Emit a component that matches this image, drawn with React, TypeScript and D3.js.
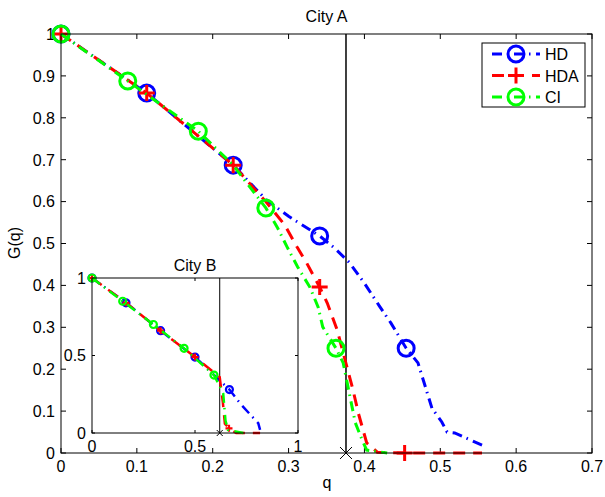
import React from "react";
import * as d3 from "d3";

// main panel: City A
const hdA = [
  [0, 1], [0.113, 0.859], [0.227, 0.687], [0.27, 0.605], [0.3, 0.565], [0.341, 0.518],
  [0.36, 0.49], [0.38, 0.455], [0.4, 0.405], [0.42, 0.35], [0.435, 0.31], [0.455, 0.25],
  [0.4706, 0.215], [0.489, 0.107], [0.502, 0.074], [0.509, 0.05], [0.519, 0.048],
  [0.546, 0.026], [0.555, 0.019],
];
const hdAMarks = [[0, 1], [0.113, 0.859], [0.227, 0.687], [0.341, 0.518], [0.455, 0.25]];

const hdaA = [
  [0, 1], [0.113, 0.859], [0.227, 0.687], [0.27, 0.6], [0.295, 0.544], [0.311, 0.492],
  [0.324, 0.453], [0.341, 0.396], [0.351, 0.358], [0.364, 0.294], [0.385, 0.15],
  [0.392, 0.095], [0.403, 0.024], [0.417, 0.002], [0.453, 0], [0.555, 0],
];
const hdaAMarks = [[0, 1], [0.113, 0.859], [0.227, 0.687], [0.341, 0.396], [0.453, 0]];

const ciA = [
  [0, 1], [0.088, 0.888], [0.181, 0.768], [0.227, 0.687], [0.27, 0.585], [0.285, 0.539],
  [0.298, 0.492], [0.312, 0.444], [0.328, 0.396], [0.339, 0.348], [0.345, 0.301],
  [0.3625, 0.25], [0.372, 0.215], [0.381, 0.134], [0.388, 0.072], [0.397, 0.031],
  [0.403, 0.007], [0.43, 0],
];
const ciAMarks = [[0, 1], [0.088, 0.888], [0.181, 0.768], [0.27, 0.585], [0.3625, 0.25]];

const qcA = 0.3757;

// inset: City B
const hdB = [
  [0, 1], [0.165, 0.84], [0.333, 0.66], [0.5, 0.49], [0.667, 0.28], [0.726, 0.18],
  [0.807, 0.063], [0.816, 0.02],
];
const hdBMarks = [[0, 1], [0.165, 0.84], [0.333, 0.66], [0.5, 0.49], [0.667, 0.28]];

const hdaB = [
  [0, 1], [0.165, 0.84], [0.333, 0.66], [0.5, 0.49], [0.62, 0.36], [0.635, 0.2],
  [0.645, 0.06], [0.665, 0.03], [0.7, 0], [0.816, 0],
];
const hdaBMarks = [[0, 1], [0.165, 0.84], [0.333, 0.66], [0.5, 0.49], [0.665, 0.03]];

const ciB = [
  [0, 1], [0.149, 0.85], [0.298, 0.7], [0.447, 0.546], [0.592, 0.374], [0.637, 0.255],
  [0.648, 0.08], [0.66, 0.02], [0.735, 0],
];
const ciBMarks = [[0, 1], [0.149, 0.85], [0.298, 0.7], [0.447, 0.546], [0.592, 0.374]];

const qcB = 0.62;

const xTicksA = [0, 0.1, 0.2, 0.3, 0.4, 0.5, 0.6, 0.7];
const yTicksA = [0, 0.1, 0.2, 0.3, 0.4, 0.5, 0.6, 0.7, 0.8, 0.9, 1];
const ticksB = [0, 0.5, 1];

const legendNames = ["HD", "HDA", "CI"];
const colors = ["#0000ff", "#ff0000", "#00ff00"];
const dashes = ["10,5,1.5,5.5", "12,8", "10,5,1.5,5.5"];
const shapes = ["circle", "plus", "circle"];

const FONT = "'Liberation Sans', Arial, sans-serif";
const FS = 16;

function App() {
  const ref = React.useRef(null);

  React.useEffect(() => {
    const svg = d3.select(ref.current);
    svg.selectAll("*").remove();

    const drawPanel = (g, opts) => {
      const { x, y, xTicks, yTicks, series, marks, qc, r, sw, msw, tickLen, title, titleY, fmt } = opts;
      const [x0, x1] = x.range();
      const [y0, y1] = y.range();
      g.append("rect")
        .attr("x", x0).attr("y", y1).attr("width", x1 - x0).attr("height", y0 - y1)
        .attr("fill", "white");

      // ticks (inward, all four sides)
      xTicks.forEach((t) => {
        g.append("line").attr("x1", x(t)).attr("x2", x(t)).attr("y1", y0).attr("y2", y0 - tickLen).attr("stroke", "black");
        g.append("line").attr("x1", x(t)).attr("x2", x(t)).attr("y1", y1).attr("y2", y1 + tickLen).attr("stroke", "black");
        g.append("text").attr("x", x(t)).attr("y", y0 + 19).attr("text-anchor", "middle")
          .attr("font-family", FONT).attr("font-size", FS).text(fmt(t));
      });
      yTicks.forEach((t) => {
        g.append("line").attr("x1", x0).attr("x2", x0 + tickLen).attr("y1", y(t)).attr("y2", y(t)).attr("stroke", "black");
        g.append("line").attr("x1", x1).attr("x2", x1 - tickLen).attr("y1", y(t)).attr("y2", y(t)).attr("stroke", "black");
        g.append("text").attr("x", x0 - 6).attr("y", y(t) + 5.8).attr("text-anchor", "end")
          .attr("font-family", FONT).attr("font-size", FS).text(fmt(t));
      });

      // threshold line
      g.append("line").attr("x1", x(qc)).attr("x2", x(qc)).attr("y1", y0).attr("y2", y1)
        .attr("stroke", "black").attr("stroke-width", opts.qcw);
      const cs = opts.crossSize;
      g.append("path")
        .attr("d", `M${x(qc) - cs},${y(0) - cs}L${x(qc) + cs},${y(0) + cs}M${x(qc) - cs},${y(0) + cs}L${x(qc) + cs},${y(0) - cs}`)
        .attr("stroke", "black").attr("stroke-width", 1);

      const line = d3.line().x((d) => x(d[0])).y((d) => y(d[1]));
      series.forEach((s, i) => {
        g.append("path").datum(s).attr("d", line).attr("fill", "none")
          .attr("stroke", colors[i]).attr("stroke-width", sw)
          .attr("stroke-dasharray", dashes[i]);
        marks[i].forEach((m) => {
          if (shapes[i] === "circle") {
            g.append("circle").attr("cx", x(m[0])).attr("cy", y(m[1])).attr("r", r)
              .attr("fill", "none").attr("stroke", colors[i]).attr("stroke-width", msw);
          } else {
            g.append("path")
              .attr("d", `M${x(m[0]) - r},${y(m[1])}H${x(m[0]) + r}M${x(m[0])},${y(m[1]) - r}V${y(m[1]) + r}`)
              .attr("stroke", colors[i]).attr("stroke-width", msw);
          }
        });
      });

      g.append("rect")
        .attr("x", x0).attr("y", y1).attr("width", x1 - x0).attr("height", y0 - y1)
        .attr("fill", "none").attr("stroke", "black").attr("stroke-width", 1);

      g.append("text").attr("x", (x0 + x1) / 2).attr("y", titleY).attr("text-anchor", "middle")
        .attr("font-family", FONT).attr("font-size", FS).text(title);
    };

    const fmt = (t) => d3.format("~g")(t);

    const xA = d3.scaleLinear().domain([0, 0.7]).range([61, 592]);
    const yA = d3.scaleLinear().domain([0, 1]).range([453, 34]);
    drawPanel(svg.append("g"), {
      x: xA, y: yA, xTicks: xTicksA, yTicks: yTicksA,
      series: [hdA, hdaA, ciA], marks: [hdAMarks, hdaAMarks, ciAMarks],
      qc: qcA, r: 8, sw: 3, msw: 3, tickLen: 5, title: "City A", titleY: 22, fmt,
      qcw: 1.5, crossSize: 6,
    });

    // axis labels
    svg.append("text").attr("x", 327).attr("y", 488).attr("text-anchor", "middle")
      .attr("font-family", FONT).attr("font-size", FS).text("q");
    svg.append("text").attr("transform", "translate(20,243) rotate(-90)").attr("text-anchor", "middle")
      .attr("font-family", FONT).attr("font-size", FS).text("G(q)");

    // legend
    const lg = svg.append("g");
    lg.append("rect").attr("x", 482).attr("y", 43).attr("width", 103).attr("height", 64)
      .attr("fill", "white").attr("stroke", "black").attr("stroke-width", 1);
    legendNames.forEach((name, i) => {
      const ly = 54 + i * 21.5;
      lg.append("line").attr("x1", 492).attr("x2", 540).attr("y1", ly).attr("y2", ly)
        .attr("stroke", colors[i]).attr("stroke-width", 3).attr("stroke-dasharray", dashes[i]);
      if (shapes[i] === "circle") {
        lg.append("circle").attr("cx", 516).attr("cy", ly).attr("r", 8)
          .attr("fill", "none").attr("stroke", colors[i]).attr("stroke-width", 3);
      } else {
        lg.append("path").attr("d", `M508,${ly}H524M516,${ly - 8}V${ly + 8}`)
          .attr("stroke", colors[i]).attr("stroke-width", 3);
      }
      lg.append("text").attr("x", 545).attr("y", ly + 6).attr("font-family", FONT)
        .attr("font-size", FS).text(name);
    });

    // inset
    const xB = d3.scaleLinear().domain([0, 1]).range([92, 298]);
    const yB = d3.scaleLinear().domain([0, 1]).range([433, 278]);
    drawPanel(svg.append("g"), {
      x: xB, y: yB, xTicks: ticksB, yTicks: ticksB,
      series: [hdB, hdaB, ciB], marks: [hdBMarks, hdaBMarks, ciBMarks],
      qc: qcB, r: 3.5, sw: 2.5, msw: 2.2, tickLen: 3, title: "City B", titleY: 271, fmt,
      qcw: 1, crossSize: 3,
    });
  }, []);

  return (
    <div style={{ position: "absolute", left: 0, top: 0 }}>
      <svg ref={ref} width={605} height={497} style={{ display: "block", background: "white" }} />
    </div>
  );
}

export default App;
